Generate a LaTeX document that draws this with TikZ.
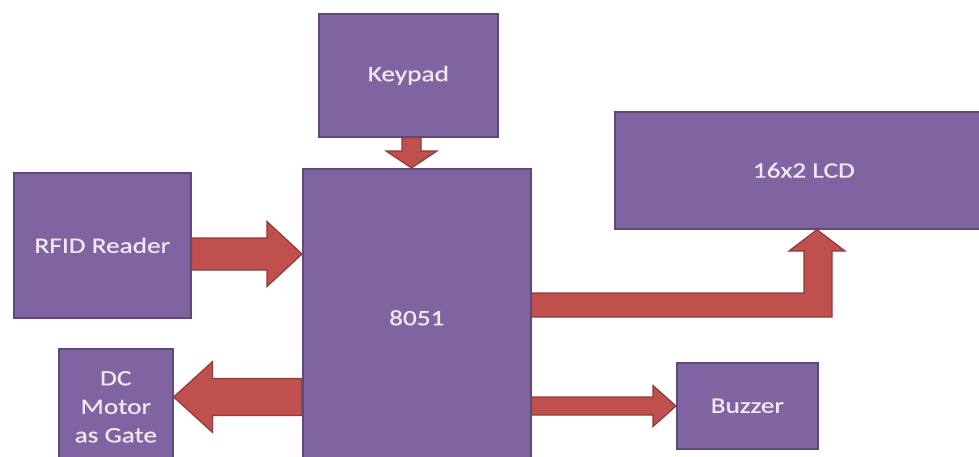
\documentclass[tikz,border=0pt]{standalone}
\usepackage{fontspec}
\newfontfamily\blockfont{Carlito}[FakeStretch=1.24, FakeBold=0.7]
\usetikzlibrary{calc,backgrounds}

\definecolor{boxfill}{HTML}{8064A2}
\definecolor{boxline}{HTML}{5E4A7A}
\definecolor{arrfill}{HTML}{C0504D}
\definecolor{arrline}{HTML}{8E3B39}
\definecolor{boxtext}{HTML}{EEEAF3}

\begin{document}
\begin{tikzpicture}[x=1pt, y=-1pt,
  block/.style={draw=boxline, fill=boxfill, line width=1.6pt, anchor=north west,
    text=boxtext, font=\blockfont\fontsize{22}{28.5}\selectfont,
    align=center, inner sep=0pt},
  fatarrow/.style={draw=arrline, fill=arrfill, line width=1.2pt, line join=miter}]

% толстая стрелка: откуда, куда, полуширина стержня, полуширина головки, длина головки
\def\barrow#1#2#3#4#5{%
  \coordinate (hb) at ($(#2)!#5!(#1)$);
  \draw[fatarrow] ($(#1)!#3!90:(#2)$) -- ($(hb)!#3!-90:(#1)$)
    -- ($(hb)!#4!-90:(#1)$) -- (#2) -- ($(hb)!#4!90:(#1)$)
    -- ($(hb)!#3!90:(#1)$) -- ($(#1)!#3!-90:(#2)$) -- cycle;
}

\useasboundingbox (0,0) rectangle (979,456);
\clip (0,0) rectangle (979,456);

%=== Блоки ===
\node[block, minimum width=179, minimum height=123] (keypad) at (318,13) {Keypad};
\node[block, minimum width=228, minimum height=298] (mcu) at (302,168) {8051};
\node[block, minimum width=177, minimum height=145] (rfid) at (13,172) {RFID Reader};
\node[block, minimum width=114, minimum height=116] (dc) at (58,348)
  {DC\\Motor\\as Gate};
\node[block, minimum width=378, minimum height=117] (lcd) at (614,111) {16x2 LCD};
\node[block, minimum width=141, minimum height=86] (buzzer) at (676,362) {Buzzer};

%=== Стрелки ===
\begin{pgfonlayer}{background}
  \fill[white] (0,0) rectangle (979,456);
  \barrow{rfid.east |- 0,254}{mcu.west |- 0,254}{16pt}{32.5pt}{35pt}
  \barrow{keypad.south -| 411.5,0}{mcu.north -| 411.5,0}{9.5pt}{25.5pt}{17pt}
  \barrow{mcu.west |- 0,397}{dc.east |- 0,397}{18.5pt}{35.5pt}{39pt}
  \barrow{mcu.east |- 0,406}{buzzer.west |- 0,406}{9pt}{20.5pt}{23pt}
  % к дисплею -- с изломом
  \draw[fatarrow] (mcu.east |- 0,293) -- (804,293) -- (804,251) -- (789,251)
    -- (lcd.south -| 817,0) -- (845,251) -- (832,251) -- (832,317)
    -- (mcu.east |- 0,317) -- cycle;
\end{pgfonlayer}

\end{tikzpicture}
\end{document}
